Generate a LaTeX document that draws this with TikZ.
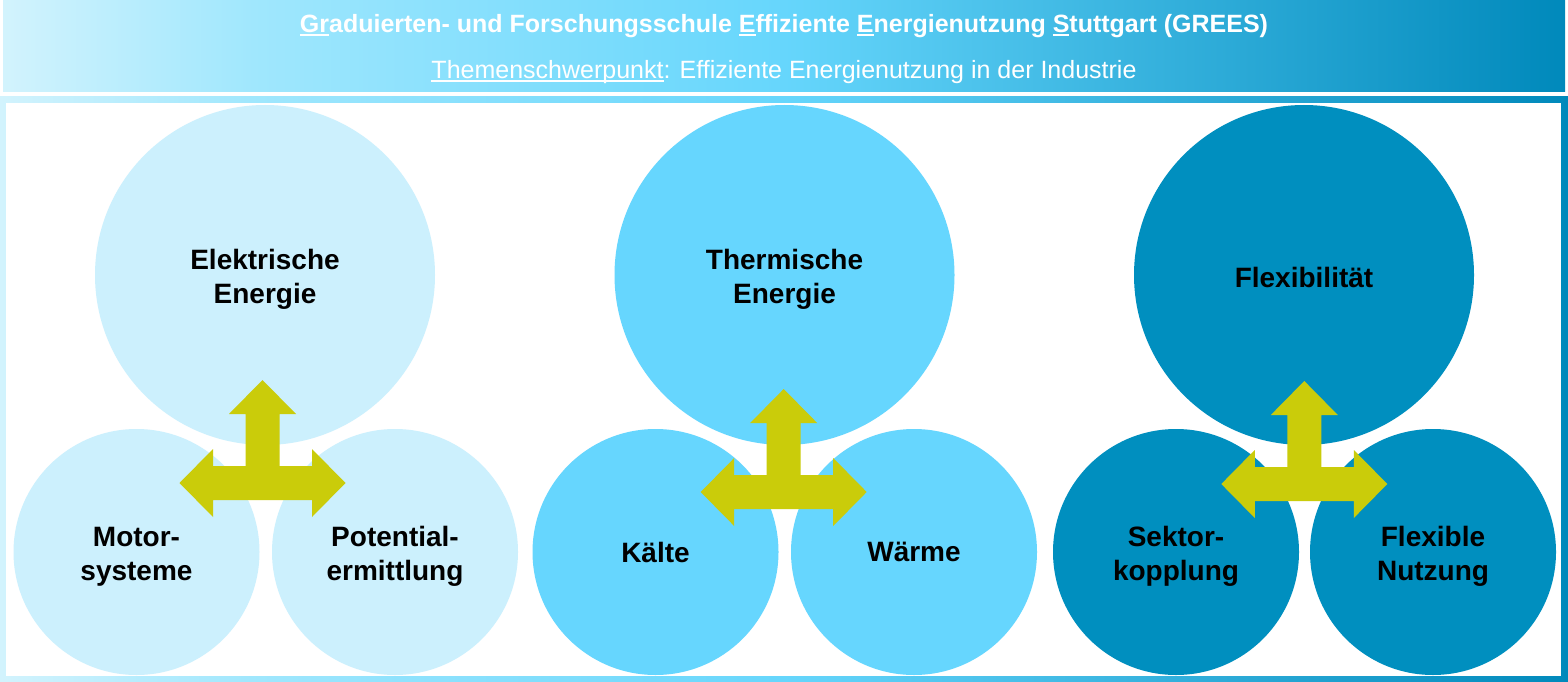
\documentclass[tikz,border=0pt]{standalone}
\usepackage{fontspec}
\setmainfont{Liberation Sans}
\definecolor{clight}{HTML}{CCF0FD}
\definecolor{cmid}{HTML}{66D6FE}
\definecolor{cdark}{HTML}{008FBF}
\definecolor{carrow}{HTML}{CACC0A}
\definecolor{gza}{HTML}{D2F3FD}
\definecolor{gzb}{HTML}{A0E7FD}
\definecolor{gzc}{HTML}{66D6FC}
\definecolor{gzd}{HTML}{0089BB}
\pgfdeclarehorizontalshading{greesgrad}{100bp}{color(0bp)=(gza); color(25bp)=(gza); color(33bp)=(gzb); color(50bp)=(gzc); color(75bp)=(gzd); color(100bp)=(gzd)}
\newcommand\ulx[1]{\setbox0\hbox{#1}\rlap{\rule[-3pt]{\wd0}{1.6pt}}\box0}
\newcommand\lupa{\rule{0pt}{28.5pt}}
\newcommand\lupb{\rule{0pt}{24.5pt}}
\begin{document}
\begin{tikzpicture}[x=1pt,y=-1pt,
  lbl/.style={font=\bfseries\fontsize{28}{34.5}\selectfont, align=center, text=black},
  bigc/.style={circle, inner sep=0pt, minimum size=340pt, lbl},
  smallc/.style={circle, inner sep=0pt, minimum size=246pt, lbl},
  hdrtext/.style={text=white, anchor=base, inner sep=0pt},
  tri/.pic={\fill[carrow] (0,-103) -- (33.5,-69) -- (17,-69) -- (17,-17) -- (49.5,-17) -- (49.5,-34) -- (83,0) -- (49.5,34) -- (49.5,17) -- (-49.5,17) -- (-49.5,34) -- (-83,0) -- (-49.5,-34) -- (-49.5,-17) -- (-17,-17) -- (-17,-69) -- (-33.5,-69) -- cycle;}
]
\useasboundingbox (0,0) rectangle (1568,682);
\fill[white] (0,0) rectangle (1568,682);
% header
\path[shading=greesgrad] (3,1) rectangle (1565,91.5);
\node[hdrtext, font=\bfseries\fontsize{25}{30}\selectfont] (title) at (784,33)
  {\ulx{Gr}aduierten- und Forschungsschule \ulx{E}ffiziente \ulx{E}nergienutzung \ulx{S}tuttgart (GREES)};
\node[hdrtext, font=\fontsize{25}{30}\selectfont] (topic) at (784,79)
  {\ulx{Themenschwerpunkt}: Effiziente Energienutzung in der Industrie};
% frame
\path[shading=greesgrad] (0,97) rectangle (1568,682);
\fill[white] (6,103) rectangle (1561,675.5);
% left group
\node[bigc, fill=clight] (elek) at (265,275) {\lupa Elektrische\\Energie};
\node[smallc, fill=clight] (motor) at (136.5,552) {\lupa Motor-\\systeme};
\node[smallc, fill=clight] (pot) at (395,552) {\lupa Potential-\\ermittlung};
% middle group
\node[bigc, fill=cmid] (therm) at (784.5,275) {\lupa Thermische\\Energie};
\node[smallc, fill=cmid] (kaelte) at (655.5,552) {Kälte};
\node[smallc, fill=cmid] (waerme) at (914,552) {Wärme};
% right group
\node[bigc, fill=cdark] (flex) at (1304,275) {\lupb Flexibilität};
\node[smallc, fill=cdark] (sektor) at (1176,552) {\lupa Sektor-\\kopplung};
\node[smallc, fill=cdark] (flexn) at (1433,552) {\lupa Flexible\\Nutzung};
% arrows
\pic at (262.5,483) {tri};
\pic at (783.7,492) {tri};
\pic at (1304.3,484) {tri};
\end{tikzpicture}
\end{document}
